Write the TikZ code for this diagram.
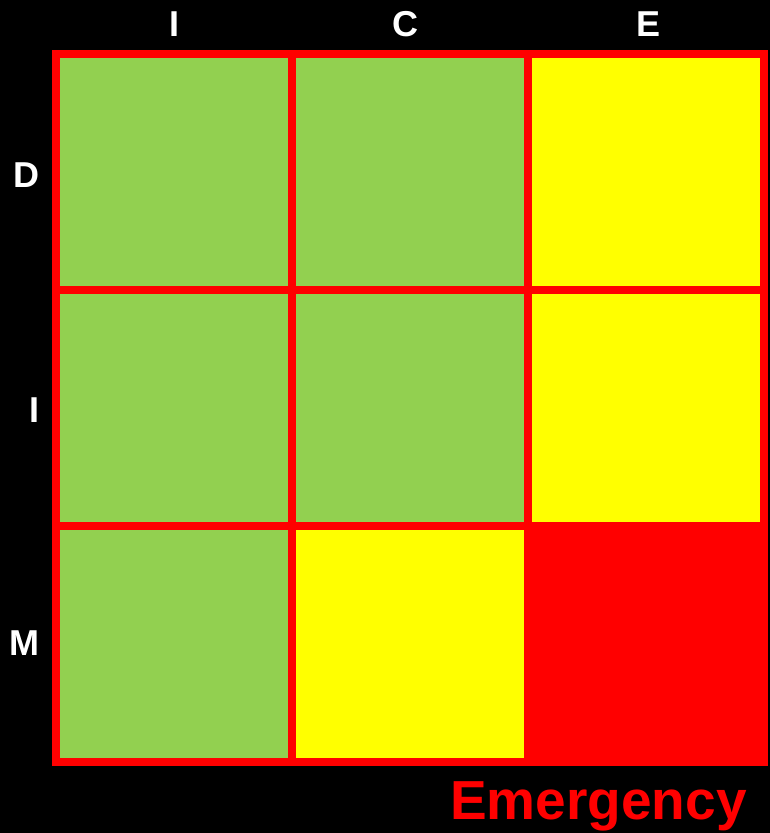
\documentclass[tikz,border=0pt]{standalone}
\usepackage{fontspec}
\setmainfont{Liberation Sans}
\definecolor{cgreen}{HTML}{92D050}
\definecolor{cyellow}{HTML}{FFFF00}
\definecolor{cred}{HTML}{FF0000}
\begin{document}
\begin{tikzpicture}[x=1pt,y=-1pt,
  cell/.style={rectangle,minimum width=236pt,minimum height=236pt,inner sep=0pt,outer sep=0pt},
  gridline/.style={draw=cred,line width=8pt},
  axislabel/.style={text=white,font=\fontsize{36}{36}\selectfont\bfseries,anchor=base,inner sep=0pt},
  titlelabel/.style={text=cred,font=\fontsize{55}{55}\selectfont\bfseries,anchor=base,inner sep=0pt}]
\fill[black] (0,0) rectangle (770,833);
\useasboundingbox (0,0) rectangle (770,833);
% cells
\node[cell,fill=cgreen]  (c11) at (174,172) {};
\node[cell,fill=cgreen]  (c12) at (410,172) {};
\node[cell,fill=cyellow] (c13) at (646,172) {};
\node[cell,fill=cgreen]  (c21) at (174,408) {};
\node[cell,fill=cgreen]  (c22) at (410,408) {};
\node[cell,fill=cyellow] (c23) at (646,408) {};
\node[cell,fill=cgreen]  (c31) at (174,644) {};
\node[cell,fill=cyellow] (c32) at (410,644) {};
\node[cell,fill=cred]    (c33) at (646,644) {};
% borders
\foreach \c in {c11,c12,c13,c21,c22,c23,c31,c32,c33}
  \draw[gridline] (\c.north west) rectangle (\c.south east);
% labels
\node[axislabel] (lI) at (174,36.7) {I};
\node[axislabel] (lC) at (405,36.7) {C};
\node[axislabel] (lE) at (648,36.7) {E};
\node[axislabel] (lD) at (26,187.3) {D};
\node[axislabel] (lI2) at (34.7,422.3) {I};
\node[axislabel] (lM) at (24,655) {M};
\node[titlelabel] (em) at (598.4,819.5) {Emergency};
\end{tikzpicture}
\end{document}
